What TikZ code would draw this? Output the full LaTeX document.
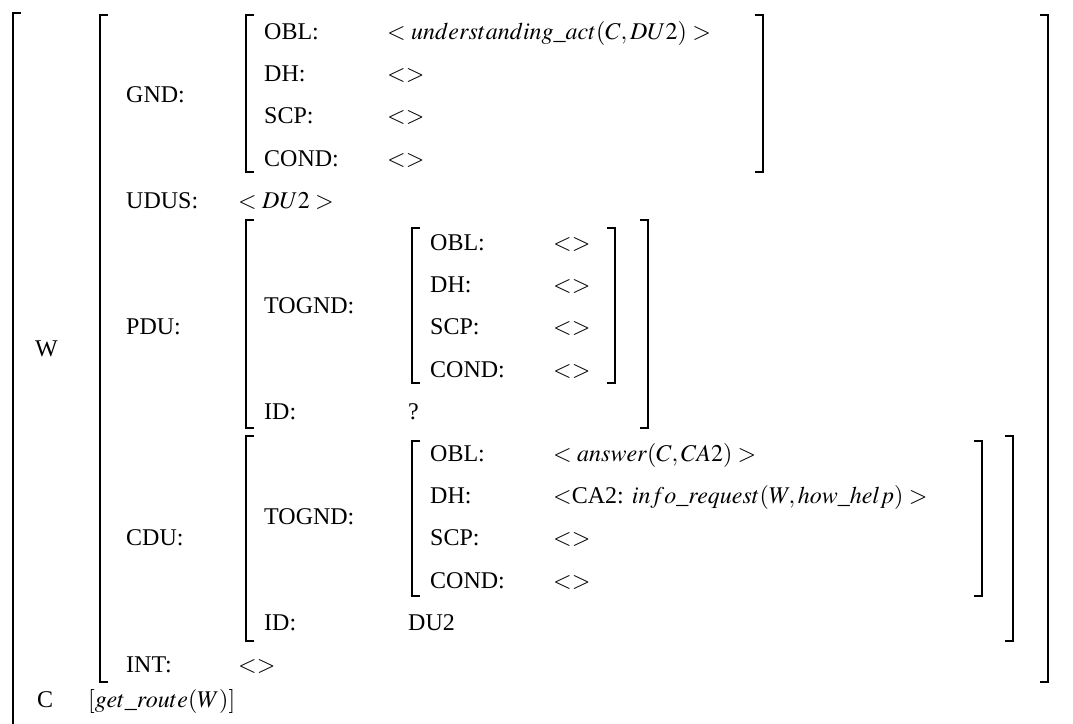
\documentclass[tikz,border=0pt]{standalone}
\usepackage{mathptmx}
\usepackage[no-math]{fontspec}
\setmainfont{Liberation Serif}
\begin{document}
\begin{tikzpicture}[x=1pt,y=-1pt,
    lbl/.style={anchor=base west,inner sep=0pt,font=\fontsize{24}{28}\selectfont},
    brk/.style={line width=1.6pt}]
  \useasboundingbox (0,0) rectangle (1073,723);
  \draw
    (35,356) node[lbl] (w){W}
    (126,102.8) node[lbl] (gnd){GND:}
    (126,208.3) node[lbl] (udus){UDUS:}
    (238,208.3) node[lbl] (udusv){$<DU2>$}
    (126,334.9) node[lbl] (pdu){PDU:}
    (126,545.9) node[lbl] (cdu){CDU:}
    (126,672.5) node[lbl] (int){INT:}
    (238,672.5) node[lbl] (intv){$<>$}
    (37,707) node[lbl] (c){C}
    (88,707) node[lbl] (cv){$[get\_route(W)]$};
  \draw
    (264,39.5) node[lbl] (gobl){OBL:}
    (387,39.5) node[lbl] (goblv){$<understanding\_act(C,DU2)>$}
    (264,81.7) node[lbl] (gdh){DH:}
    (387,81.7) node[lbl] (gdhv){$<>$}
    (264,123.9) node[lbl] (gscp){SCP:}
    (387,123.9) node[lbl] (gscpv){$<>$}
    (264,166.1) node[lbl] (gcond){COND:}
    (387,166.1) node[lbl] (gcondv){$<>$};
  \draw
    (264,313.8) node[lbl] (ptog){TOGND:}
    (430,250.5) node[lbl] (pobl){OBL:}
    (553,250.5) node[lbl] (poblv){$<>$}
    (430,292.7) node[lbl] (pdh){DH:}
    (553,292.7) node[lbl] (pdhv){$<>$}
    (430,334.9) node[lbl] (pscp){SCP:}
    (553,334.9) node[lbl] (pscpv){$<>$}
    (430,377.1) node[lbl] (pcond){COND:}
    (553,377.1) node[lbl] (pcondv){$<>$}
    (264,419.3) node[lbl] (pid){ID:}
    (408,419.3) node[lbl] (pidv){?};
  \draw
    (264,524.8) node[lbl] (ctog){TOGND:}
    (430,461.5) node[lbl] (cobl){OBL:}
    (553,461.5) node[lbl] (coblv){$<answer(C,CA2)>$}
    (430,503.7) node[lbl] (cdh){DH:}
    (553,503.7) node[lbl] (cdhv){$<$CA2: $info\_request(W,how\_help)>$}
    (430,545.9) node[lbl] (cscp){SCP:}
    (553,545.9) node[lbl] (cscpv){$<>$}
    (430,588.1) node[lbl] (ccond){COND:}
    (553,588.1) node[lbl] (ccondv){$<>$}
    (264,630.3) node[lbl] (cid){ID:}
    (408,630.3) node[lbl] (cidv){DU2};
  \begin{scope}[brk]
    \draw (21,13) -- (13,13) -- (13,735);
    \draw (108,15) -- (100,15) -- (100,682) -- (108,682);
    \draw (1040,15) -- (1048,15) -- (1048,682) -- (1040,682);
    \draw (254,15) -- (246,15) -- (246,172) -- (254,172);
    \draw (755,15) -- (763,15) -- (763,172) -- (755,172);
    \draw (254,220) -- (246,220) -- (246,428) -- (254,428);
    \draw (640,220) -- (648,220) -- (648,428) -- (640,428);
    \draw (420,228) -- (412,228) -- (412,383) -- (420,383);
    \draw (607,228) -- (615,228) -- (615,383) -- (607,383);
    \draw (254,436) -- (246,436) -- (246,641) -- (254,641);
    \draw (1005,436) -- (1013,436) -- (1013,641) -- (1005,641);
    \draw (420,441) -- (412,441) -- (412,596) -- (420,596);
    \draw (974,441) -- (982,441) -- (982,596) -- (974,596);
  \end{scope}
\end{tikzpicture}
\end{document}
